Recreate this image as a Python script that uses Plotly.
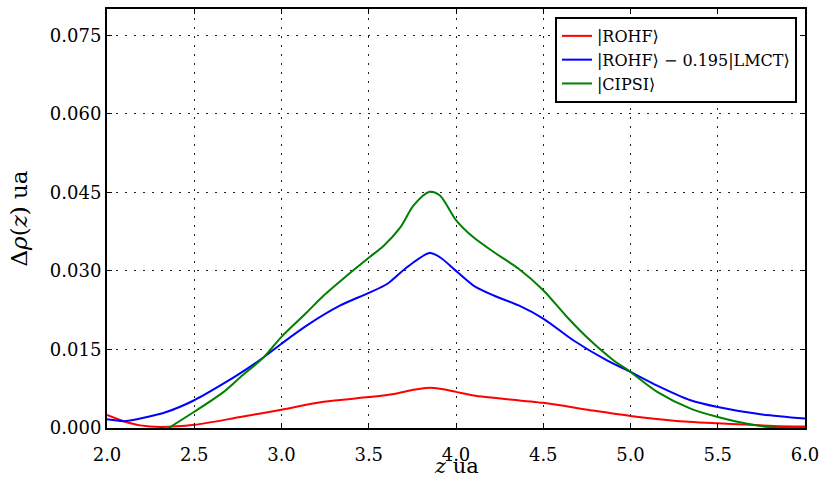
import plotly.graph_objects as go

# ---- data ----
rohf_x = [2.0, 2.096, 2.19, 2.306, 2.5, 2.764, 3.0, 3.242, 3.5, 3.643, 3.757, 3.849, 3.908, 4.0, 4.10, 4.5, 4.77, 5.0, 5.249, 5.5, 5.82, 6.0]
rohf_y = [0.0025, 0.0013, 0.0005, 0.0002, 0.0006, 0.0021, 0.0035, 0.0050, 0.0059, 0.0065, 0.0073, 0.0077, 0.0075, 0.0069, 0.0062, 0.0048, 0.0034, 0.0023, 0.0014, 0.0009, 0.0004, 0.0003]

lmct_x = [2.0, 2.096, 2.19, 2.344, 2.5, 2.669, 2.802, 2.898, 3.0, 3.146, 3.337, 3.5, 3.605, 3.719, 3.849, 3.908, 4.0, 4.10, 4.216, 4.359, 4.5, 4.674, 4.865, 5.0, 5.153, 5.344, 5.5, 5.727, 6.0]
lmct_y = [0.00165, 0.0013, 0.0018, 0.0031, 0.0053, 0.0085, 0.0113, 0.0135, 0.0161, 0.0196, 0.0234, 0.0258, 0.0275, 0.0307, 0.0334, 0.0326, 0.0300, 0.0272, 0.0253, 0.0234, 0.0209, 0.0167, 0.0129, 0.0107, 0.0081, 0.0053, 0.0040, 0.0027, 0.0018]

cipsi_x = [2.353, 2.5, 2.669, 2.764, 2.898, 3.0, 3.146, 3.242, 3.375, 3.5, 3.586, 3.681, 3.757, 3.849, 3.908, 4.0, 4.10, 4.216, 4.359, 4.5, 4.636, 4.77, 4.904, 5.0, 5.153, 5.344, 5.5, 5.67, 5.82, 6.0]
cipsi_y = [0.0, 0.0031, 0.0069, 0.0097, 0.0135, 0.0174, 0.0221, 0.0253, 0.0291, 0.0325, 0.0348, 0.0383, 0.0425, 0.0451, 0.0444, 0.0397, 0.0364, 0.0336, 0.0304, 0.0263, 0.0212, 0.0167, 0.0129, 0.0107, 0.0069, 0.0037, 0.0021, 0.0008, 0.0001, 0.0]

names = ["|ROHF⟩", "|ROHF⟩ − 0.195|LMCT⟩", "|CIPSI⟩"]
colors = ["#ff0000", "#0000ff", "#008000"]

x_ticks = [2.0, 2.5, 3.0, 3.5, 4.0, 4.5, 5.0, 5.5, 6.0]
y_ticks = [0.0, 0.015, 0.030, 0.045, 0.060, 0.075]
x_title = "<i>z</i> ua"
y_title = "Δ<i>ρ</i>(<i>z</i>) ua"

FONT = "DejaVu Serif"

fig = go.Figure()
for xs, ys, nm, c in zip([rohf_x, lmct_x, cipsi_x], [rohf_y, lmct_y, cipsi_y], names, colors):
    fig.add_trace(go.Scatter(x=xs, y=ys, name=nm, mode="lines",
                             line=dict(color=c, width=2, shape="spline", smoothing=0.8)))

axis_common = dict(
    showline=True, linecolor="black", linewidth=2, mirror="ticks",
    ticks="inside", ticklen=5, tickcolor="black", tickwidth=1,
    showgrid=True, gridcolor="#222222", gridwidth=1, griddash="2px,7px",
    zeroline=False, automargin=False,
    tickfont=dict(family=FONT, size=18, color="black"),
)

fig.update_xaxes(range=[2.0, 6.0], tickvals=x_ticks, ticktext=[f"{v:.1f}" for v in x_ticks],
                 ticklabelstandoff=9, **axis_common)
fig.update_yaxes(range=[0.0, 0.08], tickvals=y_ticks, ticktext=[f"{v:.3f}" for v in y_ticks],
                 **axis_common)

fig.add_annotation(text=x_title, xref="paper", yref="paper", x=0.5, y=-0.0915,
                   xanchor="center", yanchor="middle", showarrow=False,
                   font=dict(family=FONT, size=21, color="black"))
fig.add_annotation(text=y_title, xref="paper", yref="paper", x=-0.1275, y=0.5,
                   xanchor="center", yanchor="middle", showarrow=False, textangle=-90,
                   font=dict(family=FONT, size=23, color="black"))

fig.update_layout(
    width=821, height=478,
    margin=dict(l=107, r=16, t=9, b=50),
    paper_bgcolor="white", plot_bgcolor="white",
    font=dict(family=FONT, color="black"),
    legend=dict(x=0.9885, y=0.981, xanchor="right", yanchor="top",
                bgcolor="white", bordercolor="black", borderwidth=2,
                font=dict(family=FONT, size=16, color="black"),
                itemwidth=30, tracegroupgap=0),
)

fig.write_html("out.html", config={"displayModeBar": False},
               post_script="document.body.style.margin='0';document.body.style.padding='0';")
